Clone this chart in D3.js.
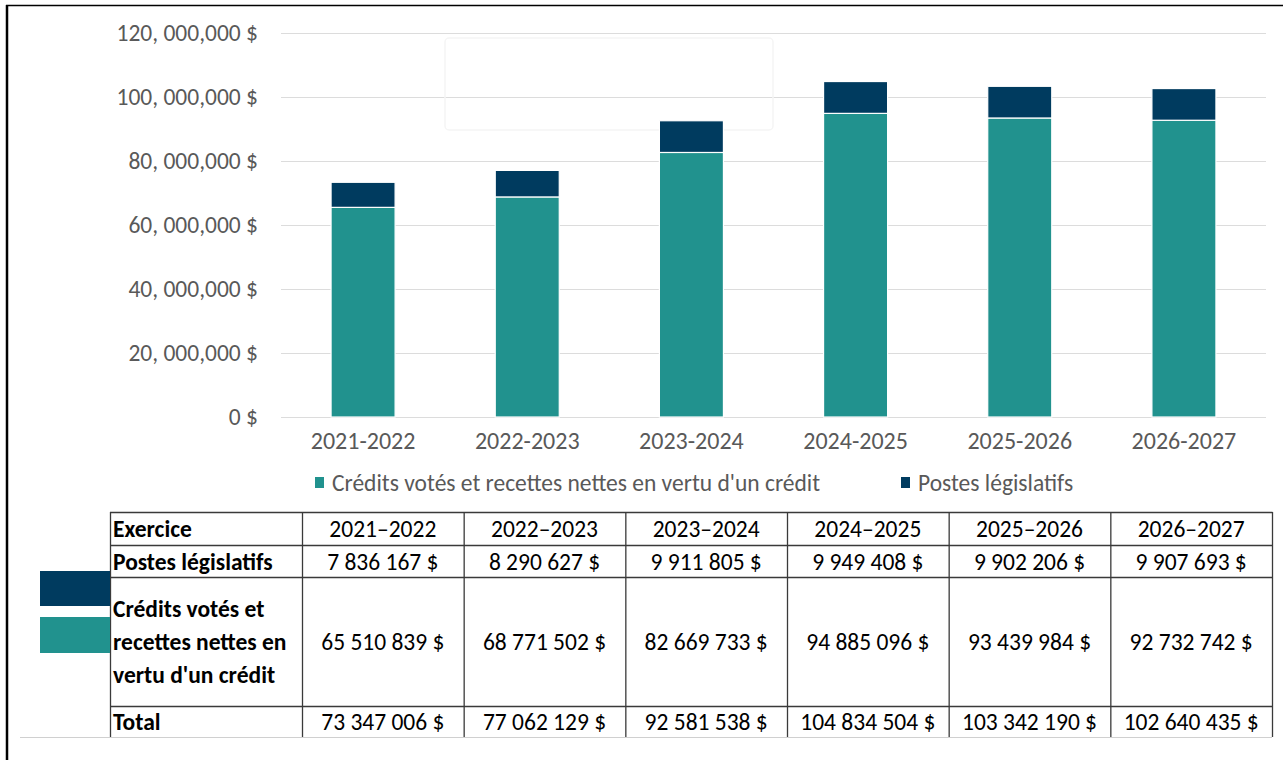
<!DOCTYPE html>
<html>
<head>
<meta charset="utf-8">
<script src="https://cdn.jsdelivr.net/npm/d3@7"></script>
<style>
  body { margin: 0; background: #fff; }
  svg { display: block; font-family: Carlito, Calibri, Lato, sans-serif; }
</style>
</head>
<body>
<svg id="chart"></svg>
<script>
// exercise years (chart uses hyphen, table uses en dash)
const years = ["2021-2022", "2022-2023", "2023-2024", "2024-2025", "2025-2026", "2026-2027"];
const tableYears = ["2021–2022", "2022–2023", "2023–2024", "2024–2025", "2025–2026", "2026–2027"];
const credits = [65510839, 68771502, 82669733, 94885096, 93439984, 92732742];
const postes = [7836167, 8290627, 9911805, 9949408, 9902206, 9907693];
const totals = [73347006, 77062129, 92581538, 104834504, 103342190, 102640435];
const yTicks = [0, 20e6, 40e6, 60e6, 80e6, 100e6, 120e6];
const yTickLabels = ["0 $", "20, 000,000 $", "40, 000,000 $", "60, 000,000 $", "80, 000,000 $", "100, 000,000 $", "120, 000,000 $"];
const seriesNames = ["Crédits votés et recettes nettes en vertu d'un crédit", "Postes législatifs"];
const rowLabels = ["Exercice", "Postes législatifs", ["Crédits votés et", "recettes nettes en", "vertu d'un crédit"], "Total"];

const teal = "#21928e", navy = "#003b5f";
const fontSize = 23.5;

const svg = d3.select("#chart").attr("width", 1286).attr("height", 760);

// outer frame (top + left only)
svg.append("line").attr("x1", 6).attr("x2", 1283).attr("y1", 5.5).attr("y2", 5.5)
  .attr("stroke", "#000").attr("stroke-width", 1.5);
svg.append("line").attr("x1", 7).attr("x2", 7).attr("y1", 5).attr("y2", 760)
  .attr("stroke", "#000").attr("stroke-width", 2.5);

let x = d3.scaleBand().domain(years).range([281, 1266]).paddingInner(0.61).paddingOuter(0.305);
let y = d3.scaleLinear().domain([0, 120e6]).range([417, 33]);

// gridlines
svg.append("g")
  .selectAll("line").data(yTicks).join("line")
  .attr("x1", 281).attr("x2", 1266)
  .attr("y1", d => Math.round(y(d)) + 0.5).attr("y2", d => Math.round(y(d)) + 0.5)
  .attr("stroke", "#dcdcdc").attr("stroke-width", 1.2);

// y axis labels
let yAxis = svg.append("g").attr("transform", "translate(258,0)")
  .call(d3.axisLeft(y).tickValues(yTicks).tickSize(0).tickPadding(0)
    .tickFormat((d, i) => yTickLabels[i]));
yAxis.select(".domain").remove();
yAxis.selectAll("text").attr("font-size", fontSize).attr("fill", "#595959")
  .attr("font-family", "Carlito, Calibri, Lato, sans-serif");

// x axis labels
let xAxis = svg.append("g").attr("transform", "translate(0,429)")
  .call(d3.axisBottom(x).tickSize(0).tickPadding(0));
xAxis.select(".domain").remove();
xAxis.selectAll("text").attr("font-size", fontSize + 0.5).attr("fill", "#595959")
  .attr("font-family", "Carlito, Calibri, Lato, sans-serif").attr("dy", "0.85em");

// faint leftover tooltip ghost from the source screenshot
svg.append("rect").attr("x", 445).attr("y", 38).attr("width", 328).attr("height", 92).attr("rx", 4)
  .attr("fill", "none").attr("stroke", "#f5f5f5").attr("stroke-width", 1.5);

// stacked bars
let stackData = years.map((yr, i) => ({ year: yr, credits: credits[i], postes: postes[i] }));
let stack = d3.stack().keys(["credits", "postes"])(stackData);
let colors = [teal, navy];

svg.append("g").selectAll("g").data(stack).join("g")
  .attr("fill", (d, i) => colors[i])
  .selectAll("rect").data(d => d).join("rect")
  .attr("x", d => x(d.data.year))
  .attr("width", x.bandwidth())
  .attr("y", d => y(d[1]))
  .attr("height", d => y(d[0]) - y(d[1]))
  .attr("stroke", "#fff").attr("stroke-width", 1.2);

// legend
let legendItems = [{ name: seriesNames[0], color: teal, x: 315 }, { name: seriesNames[1], color: navy, x: 901 }];
let legend = svg.append("g").selectAll("g").data(legendItems).join("g")
  .attr("transform", d => "translate(" + d.x + ",477)");
legend.append("rect").attr("width", 9).attr("height", 11).attr("fill", d => d.color);
legend.append("text").attr("x", 17).attr("y", 5.5).attr("dy", "0.35em")
  .attr("font-size", fontSize).attr("fill", "#595959").text(d => d.name);

// data table
let fmt = d3.formatLocale({ decimal: ",", thousands: " ", grouping: [3], currency: ["", " $"] }).format("$,.0f");
let colX = d3.scaleBand().domain(tableYears).range([302, 1272]);
let rowY = [512, 545, 577, 706, 737];
let table = svg.append("g").attr("font-size", fontSize).attr("fill", "#000");

// light baseline under the table
svg.append("line").attr("x1", 20).attr("x2", 1272).attr("y1", 737.5).attr("y2", 737.5)
  .attr("stroke", "#d0d0d0").attr("stroke-width", 1);

// horizontal rules
table.selectAll("line.h").data(rowY.slice(0, 4)).join("line")
  .attr("x1", 110).attr("x2", 1272.5).attr("y1", d => d + 0.5).attr("y2", d => d + 0.5)
  .attr("stroke", "#3a3a3a").attr("stroke-width", 1.3);
// vertical rules
let vx = [110].concat(tableYears.map(d => colX(d))).concat([1272]);
table.selectAll("line.v").data(vx).join("line")
  .attr("x1", d => d + 0.5).attr("x2", d => d + 0.5).attr("y1", 512).attr("y2", 737)
  .attr("stroke", "#3a3a3a").attr("stroke-width", 1.3);

// series swatches left of the table
svg.append("rect").attr("x", 40).attr("y", 571).attr("width", 70).attr("height", 35).attr("fill", navy);
svg.append("rect").attr("x", 40).attr("y", 617).attr("width", 70).attr("height", 36).attr("fill", teal);

// row labels
let rowMid = [529, 561.5, 642, 722];
rowLabels.forEach((lab, r) => {
  let lines = Array.isArray(lab) ? lab : [lab];
  lines.forEach((t, k) => {
    table.append("text").attr("x", 113)
      .attr("y", rowMid[r] + (k - (lines.length - 1) / 2) * 33)
      .attr("dy", "0.35em").attr("font-weight", "bold").text(t);
  });
});

// cell values
let rows = [tableYears, postes.map(fmt), credits.map(fmt), totals.map(fmt)];
rows.forEach((vals, r) => {
  table.append("g").selectAll("text").data(vals).join("text")
    .attr("x", (d, i) => colX(tableYears[i]) + colX.bandwidth() / 2)
    .attr("y", rowMid[r]).attr("dy", "0.35em")
    .attr("text-anchor", "middle").text(d => d);
});
</script>
</body>
</html>
